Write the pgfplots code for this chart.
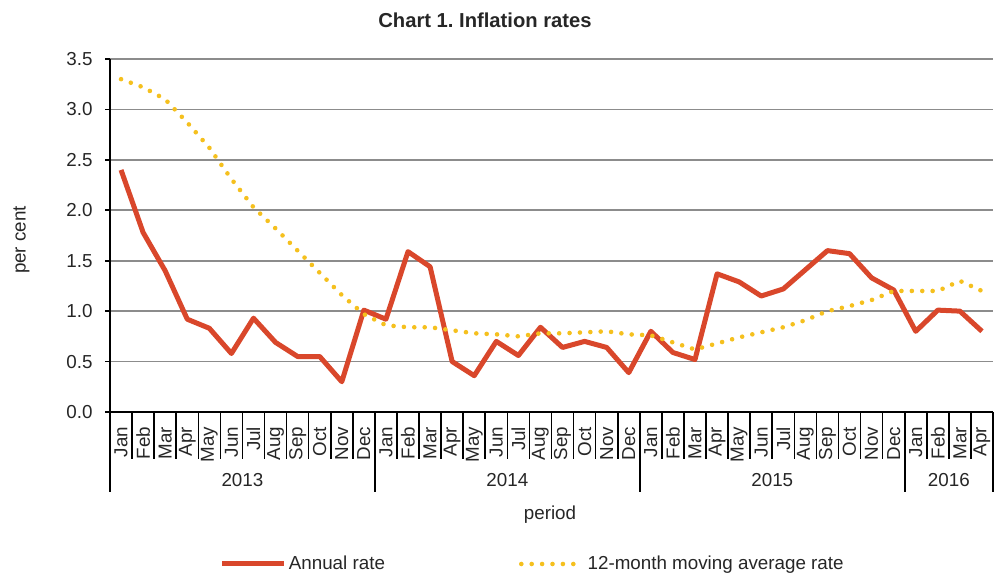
\documentclass[border=0pt]{standalone}
\usepackage{fontspec}
\setmainfont{Liberation Sans}
\usepackage{pgfplots}
\pgfplotsset{compat=1.18}
\definecolor{annual}{HTML}{D9472B}
\definecolor{mavg}{HTML}{F5C01E}
\definecolor{gridc}{HTML}{8C8C8C}
\definecolor{txt}{HTML}{262626}
\frenchspacing
\begin{document}
\fontsize{9.4}{11.3}\selectfont
\begin{tikzpicture}
\useasboundingbox (0,0) rectangle (497.5pt,288pt);
\begin{axis}[
  at={(55pt,82pt)}, anchor=south west,
  scale only axis, width=441.5pt, height=176.5pt,
  xmin=-0.5, xmax=39.5, ymin=0, ymax=3.5,
  clip=false,
  axis x line*=bottom, axis y line*=left,
  axis line style={-, black, line width=0.9pt},
  xtick={0,...,39},
  xticklabels={Jan,Feb,Mar,Apr,May,Jun,Jul,Aug,Sep,Oct,Nov,Dec,Jan,Feb,Mar,Apr,May,Jun,Jul,Aug,Sep,Oct,Nov,Dec,Jan,Feb,Mar,Apr,May,Jun,Jul,Aug,Sep,Oct,Nov,Dec,Jan,Feb,Mar,Apr},
  xticklabel style={rotate=90, anchor=east, inner sep=0pt, text=txt, font=\fontsize{9.4}{11.3}\selectfont},
  xticklabel shift=4.75pt,
  x tick style={draw=none},
  extra x ticks={-0.5,0.5,1.5,2.5,3.5,4.5,5.5,6.5,7.5,8.5,9.5,10.5,11.5,12.5,13.5,14.5,15.5,16.5,17.5,18.5,19.5,20.5,21.5,22.5,23.5,24.5,25.5,26.5,27.5,28.5,29.5,30.5,31.5,32.5,33.5,34.5,35.5,36.5,37.5,38.5,39.5},
  extra x tick labels={},
  extra x tick style={major tick length=23.5pt, tick align=outside, grid=none, x tick style={draw=black, line width=0.8pt}},
  ytick={0,0.5,...,3.5},
  yticklabel style={/pgf/number format/fixed, /pgf/number format/fixed zerofill, /pgf/number format/precision=1, /pgf/number format/assume math mode=true, text=txt, font=\fontsize{9.4}{11.3}\selectfont, inner sep=0pt},
  yticklabel shift=6pt,
  y tick style={black, line width=0.8pt},
  tick align=outside, major tick length=2.5pt,
  ymajorgrids, grid style={gridc, line width=0.8pt},
  legend style={draw=none, fill=none, at={(0.1244,-0.4306)}, anchor=west, legend columns=2,
    inner sep=0pt, outer sep=0pt, font=\fontsize{9.4}{11.3}\selectfont, text=txt,
    nodes={inner sep=1pt},
    /tikz/every even column/.append style={column sep=66pt}},
  legend image code/.code={\draw[#1] (0pt,0pt) -- (31pt,0pt);},
  legend cell align=left,
]
\addplot[annual, line width=2.5pt, line join=round] coordinates {
(0,2.40)(1,1.78)(2,1.40)(3,0.92)(4,0.83)(5,0.58)(6,0.93)(7,0.69)(8,0.55)(9,0.55)(10,0.30)(11,1.01)
(12,0.92)(13,1.59)(14,1.44)(15,0.50)(16,0.36)(17,0.70)(18,0.56)(19,0.84)(20,0.64)(21,0.70)(22,0.64)(23,0.39)
(24,0.80)(25,0.59)(26,0.52)(27,1.37)(28,1.29)(29,1.15)(30,1.22)(31,1.41)(32,1.60)(33,1.57)(34,1.33)(35,1.21)
(36,0.80)(37,1.01)(38,1.00)(39,0.80)};
\addlegendentry{Annual rate}
\addplot[mavg, line width=2.3pt, line cap=round, dash pattern=on 0pt off 5.2pt] coordinates {
(0,3.30)(1,3.22)(2,3.10)(3,2.87)(4,2.62)(5,2.31)(6,2.03)(7,1.82)(8,1.60)(9,1.38)(10,1.16)(11,0.97)
(12,0.86)(13,0.84)(14,0.84)(15,0.81)(16,0.78)(17,0.77)(18,0.75)(19,0.78)(20,0.78)(21,0.79)(22,0.80)(23,0.77)
(24,0.76)(25,0.69)(26,0.62)(27,0.68)(28,0.74)(29,0.79)(30,0.84)(31,0.91)(32,1.00)(33,1.05)(34,1.11)(35,1.20)
(36,1.20)(37,1.20)(38,1.30)(39,1.20)};
\addlegendentry{12-month moving average rate}
\draw[black, line width=0.8pt] (axis cs:-0.5,0) -- ++(0pt,-40pt);
\draw[black, line width=0.8pt] (axis cs:11.5,0) -- ++(0pt,-40pt);
\draw[black, line width=0.8pt] (axis cs:23.5,0) -- ++(0pt,-40pt);
\draw[black, line width=0.8pt] (axis cs:35.5,0) -- ++(0pt,-40pt);
\draw[black, line width=0.8pt] (axis cs:39.5,0) -- ++(0pt,-40pt);
\node[txt] at (axis cs:5.5,0) [yshift=-34pt] {2013};
\node[txt] at (axis cs:17.5,0) [yshift=-34pt] {2014};
\node[txt] at (axis cs:29.5,0) [yshift=-34pt] {2015};
\node[txt] at (axis cs:37.5,0) [yshift=-34pt] {2016};
\end{axis}
\node[txt, font=\fontsize{10.1}{12}\selectfont\bfseries] at (242.5pt,278pt) {Chart 1. Inflation rates};
\node[txt, rotate=90] at (10.8pt,168pt) {per cent};
\node[txt] at (275pt,30.5pt) {period};
\end{tikzpicture}
\end{document}
